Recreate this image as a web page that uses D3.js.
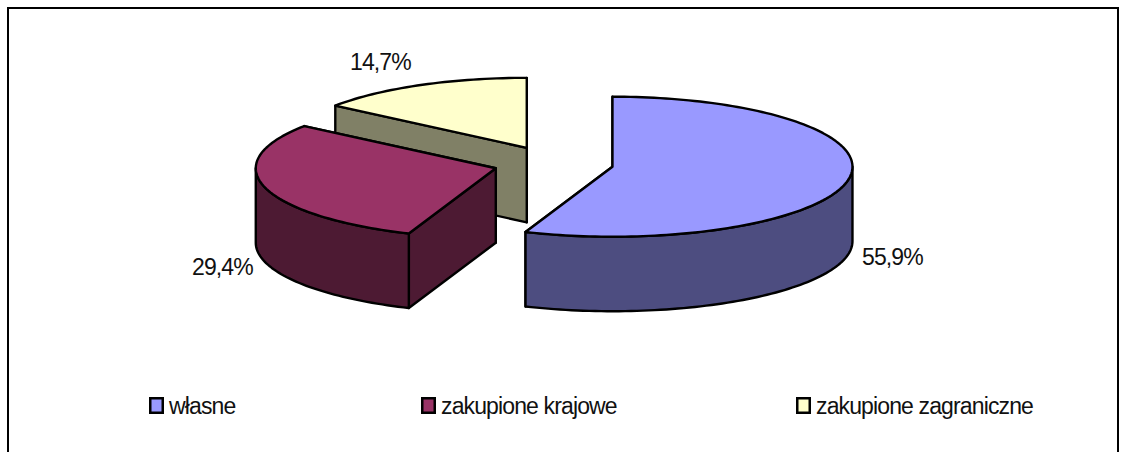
<!DOCTYPE html>
<html>
<head>
<meta charset="utf-8">
<script src="https://cdn.jsdelivr.net/npm/d3@7"></script>
<style>
  html, body { margin: 0; padding: 0; background: #fff; overflow: hidden; }
  text { font-family: "Liberation Sans", Arial, sans-serif; font-size: 23px; letter-spacing: -0.87px; fill: #111; }
</style>
</head>
<body>
<div id="visualization"></div>
<script>
// chart values
let categories = ['własne', 'zakupione krajowe', 'zakupione zagraniczne'];
let shares = [55.9, 29.4, 14.7];
let shareLabels = ['55,9%', '29,4%', '14,7%'];

let topColors = ['#9999ff', '#993366', '#ffffcc'];
let sideColors = ['#4d4d80', '#4d1a33', '#808066'];

// layout of the tilted pie
let center = { x: 553.5, y: 163.5 };
let radiusX = 240;
let radiusY = 70;
let depth = 74.5;
let explode = 0.25;

// where the labels sit
let labelPos = [[862, 265], [192, 275], [350, 70]];
let legendSwatchX = [150.25, 422.25, 797.25];
let legendTextX = [169, 441, 816];

var svg = d3.select("#visualization").append("svg")
  .attr("width", 1128)
  .attr("height", 452);

// frame, no bottom edge in the picture
svg.append("path")
  .attr("d", "M8,452V8H1118V452")
  .attr("fill", "none")
  .attr("stroke", "#000")
  .attr("stroke-width", 2);

var pie = d3.pie().sort(null);
var slices = pie(shares);

// angle 0 is straight up, clockwise, like d3.arc
function point(origin, angle, drop) {
  return [
    origin.x + radiusX * Math.sin(angle),
    origin.y - radiusY * Math.cos(angle) + (drop || 0)
  ];
}

function arcPoints(origin, a0, a1, drop) {
  var n = Math.max(2, Math.ceil((a1 - a0) * 40));
  return d3.range(n + 1).map(function (i) {
    return point(origin, a0 + (a1 - a0) * i / n, drop);
  });
}

var line = d3.line();

function drawFace(pts, fill) {
  svg.append("path")
    .attr("d", line(pts) + "Z")
    .attr("fill", fill)
    .attr("stroke", "#000")
    .attr("stroke-width", 2.4)
    .attr("stroke-linejoin", "round");
}

// back slice first so the nearer ones cover it
d3.range(slices.length - 1, -1, -1).forEach(function (i) {
  var s = slices[i];
  var mid = (s.startAngle + s.endAngle) / 2;
  var apex = {
    x: center.x + explode * radiusX * Math.sin(mid),
    y: center.y - explode * radiusY * Math.cos(mid)
  };
  var apexPt = [apex.x, apex.y];
  var apexLow = [apex.x, apex.y + depth];

  // the two cut walls, the end one is always the hidden one here
  [s.endAngle, s.startAngle].forEach(function (a) {
    drawFace([apexPt, point(apex, a), point(apex, a, depth), apexLow], sideColors[i]);
  });

  // rim, only the part facing the viewer (quarter to three quarters of a turn)
  var rimStart = Math.max(s.startAngle, Math.PI / 2);
  var rimEnd = Math.min(s.endAngle, Math.PI * 1.5);
  if (rimEnd > rimStart) {
    var upper = arcPoints(apex, rimStart, rimEnd);
    var lower = arcPoints(apex, rimStart, rimEnd, depth).reverse();
    drawFace(upper.concat(lower), sideColors[i]);
  }

  // top
  drawFace([apexPt].concat(arcPoints(apex, s.startAngle, s.endAngle)), topColors[i]);
});

// value labels
svg.selectAll(".share")
  .data(shareLabels)
  .enter().append("text")
  .attr("class", "share")
  .attr("x", function (d, i) { return labelPos[i][0]; })
  .attr("y", function (d, i) { return labelPos[i][1]; })
  .text(function (d) { return d; });

// legend
svg.selectAll(".swatch")
  .data(categories)
  .enter().append("rect")
  .attr("class", "swatch")
  .attr("x", function (d, i) { return legendSwatchX[i]; })
  .attr("y", 398.25)
  .attr("width", 12.5)
  .attr("height", 14.5)
  .attr("fill", function (d, i) { return topColors[i]; })
  .attr("stroke", "#000")
  .attr("stroke-width", 2.5);

svg.selectAll(".legendText")
  .data(categories)
  .enter().append("text")
  .attr("class", "legendText")
  .attr("x", function (d, i) { return legendTextX[i]; })
  .attr("y", 414)
  .text(function (d) { return d; });
</script>
</body>
</html>
